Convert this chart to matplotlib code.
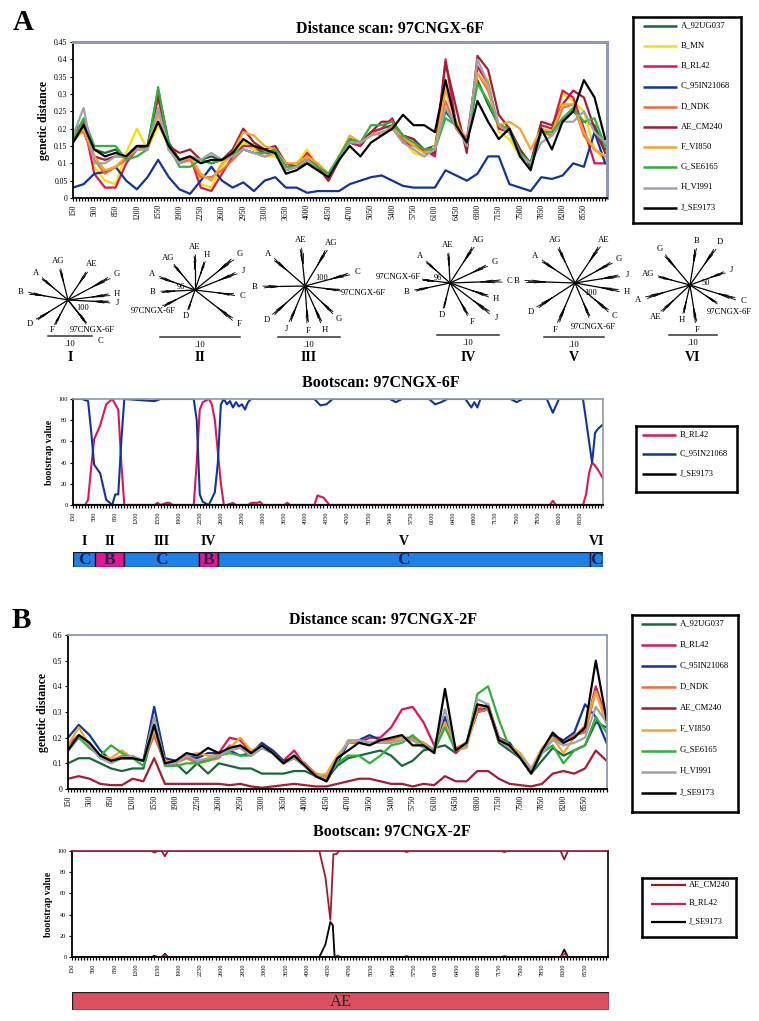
import numpy as np
import matplotlib
matplotlib.use("Agg")
import matplotlib.pyplot as plt
from matplotlib.ticker import MultipleLocator

plt.rcParams['font.family'] = ['Liberation Serif', 'DejaVu Serif']

# ====================== DATA ======================
# window midpoints (bp) of the distance scans
scan_pos = np.arange(150, 8901, 175)
scan_ticks = [150, 500, 850, 1200, 1550, 1900, 2250, 2600, 2950, 3300, 3650, 4000,
              4350, 4700, 5050, 5400, 5750, 6100, 6450, 6800, 7150, 7500, 7850, 8200, 8550]

# ---- Panel A : distance scan 97CNGX-6F ----
a_A_92UG037 = [0.17,0.22,0.14,0.13,0.14,0.11,0.15,0.15,0.31,0.16,
               0.11,0.12,0.11,0.12,0.11,0.13,0.16,0.14,0.13,0.13,
               0.08,0.09,0.10,0.08,0.06,0.11,0.16,0.15,0.19,0.20,
               0.21,0.18,0.17,0.14,0.15,0.25,0.21,0.16,0.34,0.27,
               0.21,0.20,0.14,0.09,0.19,0.19,0.22,0.25,0.22,0.21,0.14]
a_B_MN = [0.18,0.21,0.09,0.05,0.04,0.13,0.20,0.14,0.21,0.15,
          0.11,0.12,0.04,0.03,0.09,0.13,0.16,0.14,0.12,0.12,
          0.09,0.10,0.14,0.09,0.06,0.12,0.17,0.16,0.18,0.19,
          0.20,0.17,0.13,0.12,0.15,0.33,0.22,0.15,0.37,0.34,
          0.19,0.17,0.12,0.10,0.20,0.19,0.30,0.28,0.25,0.14,0.11]
a_B_RL42 = [0.19,0.22,0.07,0.03,0.03,0.10,0.14,0.15,0.29,0.14,
            0.10,0.12,0.03,0.02,0.07,0.12,0.15,0.15,0.13,0.13,
            0.10,0.09,0.13,0.09,0.05,0.11,0.16,0.15,0.19,0.20,
            0.23,0.16,0.15,0.14,0.12,0.40,0.21,0.17,0.38,0.33,
            0.20,0.19,0.13,0.10,0.21,0.20,0.31,0.29,0.20,0.10,0.10]
a_C_95IN21068 = [0.03,0.04,0.07,0.075,0.09,0.05,0.025,0.06,0.11,0.06,
                 0.025,0.012,0.05,0.09,0.05,0.03,0.045,0.02,0.05,0.06,
                 0.03,0.03,0.015,0.02,0.02,0.02,0.04,0.05,0.06,0.065,
                 0.05,0.035,0.03,0.03,0.03,0.08,0.065,0.05,0.07,0.12,
                 0.12,0.04,0.03,0.02,0.06,0.055,0.065,0.10,0.09,0.19,0.10]
a_D_NDK = [0.18,0.19,0.11,0.07,0.09,0.11,0.14,0.14,0.25,0.14,
           0.10,0.11,0.06,0.06,0.08,0.11,0.14,0.13,0.12,0.13,
           0.10,0.09,0.12,0.09,0.06,0.12,0.17,0.16,0.19,0.18,
           0.21,0.17,0.15,0.14,0.14,0.28,0.20,0.16,0.36,0.31,
           0.21,0.19,0.13,0.10,0.19,0.18,0.26,0.27,0.18,0.14,0.12]
a_AE_CM240 = [0.17,0.21,0.12,0.11,0.12,0.12,0.15,0.14,0.30,0.15,
              0.13,0.14,0.11,0.10,0.11,0.14,0.20,0.16,0.14,0.15,
              0.10,0.09,0.11,0.09,0.05,0.11,0.17,0.16,0.19,0.22,
              0.22,0.18,0.17,0.13,0.13,0.39,0.26,0.13,0.41,0.37,
              0.24,0.20,0.14,0.10,0.22,0.21,0.27,0.31,0.29,0.20,0.13]
a_F_VI850 = [0.16,0.20,0.12,0.08,0.09,0.12,0.14,0.14,0.24,0.15,
             0.11,0.12,0.07,0.05,0.10,0.13,0.19,0.18,0.15,0.14,
             0.10,0.10,0.12,0.10,0.07,0.12,0.18,0.16,0.18,0.19,
             0.20,0.18,0.15,0.13,0.14,0.31,0.22,0.16,0.36,0.32,
             0.21,0.22,0.20,0.14,0.20,0.19,0.27,0.27,0.19,0.14,0.12]
a_G_SE6165 = [0.17,0.23,0.15,0.15,0.15,0.11,0.12,0.14,0.32,0.15,
              0.09,0.09,0.11,0.10,0.11,0.13,0.14,0.13,0.13,0.14,
              0.09,0.09,0.11,0.09,0.07,0.12,0.17,0.16,0.21,0.21,
              0.22,0.18,0.16,0.14,0.14,0.23,0.21,0.16,0.33,0.28,
              0.21,0.20,0.13,0.10,0.19,0.19,0.23,0.26,0.22,0.23,0.15]
a_H_VI991 = [0.18,0.26,0.10,0.10,0.12,0.12,0.14,0.14,0.26,0.14,
             0.10,0.12,0.11,0.13,0.11,0.12,0.14,0.13,0.12,0.13,
             0.08,0.09,0.11,0.08,0.06,0.11,0.16,0.16,0.18,0.19,
             0.20,0.16,0.14,0.12,0.14,0.26,0.21,0.15,0.40,0.33,
             0.21,0.19,0.12,0.10,0.16,0.18,0.22,0.22,0.25,0.19,0.16]
a_J_SE9173 = [0.16,0.21,0.14,0.12,0.13,0.12,0.15,0.15,0.22,0.15,
              0.11,0.12,0.10,0.11,0.11,0.13,0.17,0.15,0.14,0.13,
              0.07,0.08,0.10,0.08,0.06,0.11,0.15,0.12,0.16,0.18,
              0.20,0.24,0.21,0.21,0.19,0.34,0.21,0.16,0.28,0.22,
              0.17,0.20,0.12,0.08,0.20,0.14,0.22,0.25,0.34,0.29,0.17]

# ---- Panel B : distance scan 97CNGX-2F ----
b_A_92UG037 = [0.10,0.12,0.12,0.10,0.08,0.07,0.08,0.08,0.24,0.10,
               0.10,0.06,0.10,0.06,0.10,0.09,0.08,0.08,0.06,0.06,
               0.06,0.07,0.07,0.05,0.04,0.09,0.12,0.13,0.14,0.15,
               0.13,0.09,0.11,0.15,0.16,0.17,0.14,0.18,0.30,0.32,
               0.18,0.15,0.12,0.06,0.11,0.16,0.13,0.15,0.17,0.26,0.24]
b_B_RL42 = [0.17,0.21,0.16,0.13,0.11,0.12,0.12,0.11,0.21,0.10,
            0.10,0.13,0.10,0.12,0.14,0.20,0.19,0.14,0.17,0.15,
            0.11,0.15,0.09,0.05,0.04,0.12,0.18,0.18,0.20,0.20,
            0.24,0.31,0.32,0.26,0.17,0.27,0.14,0.18,0.31,0.33,
            0.20,0.16,0.13,0.07,0.14,0.20,0.18,0.21,0.23,0.40,0.27]
b_C_95IN21068 = [0.20,0.25,0.21,0.15,0.11,0.12,0.12,0.11,0.32,0.12,
                 0.11,0.13,0.12,0.14,0.14,0.15,0.13,0.14,0.18,0.15,
                 0.11,0.12,0.10,0.05,0.03,0.10,0.18,0.19,0.21,0.19,
                 0.19,0.20,0.19,0.18,0.15,0.28,0.15,0.18,0.30,0.31,
                 0.20,0.18,0.12,0.07,0.15,0.21,0.19,0.22,0.33,0.28,0.18]
b_D_NDK = [0.16,0.20,0.17,0.12,0.11,0.13,0.12,0.11,0.21,0.11,
           0.10,0.12,0.10,0.11,0.12,0.17,0.16,0.13,0.16,0.14,
           0.10,0.13,0.10,0.06,0.05,0.12,0.18,0.18,0.18,0.19,
           0.19,0.20,0.20,0.18,0.15,0.25,0.16,0.18,0.30,0.31,
           0.20,0.17,0.13,0.07,0.15,0.20,0.18,0.21,0.22,0.38,0.27]
b_AE_CM240 = [0.04,0.05,0.04,0.02,0.015,0.015,0.04,0.03,0.12,0.02,
              0.02,0.02,0.02,0.02,0.02,0.015,0.02,0.01,0.005,0.01,
              0.015,0.02,0.015,0.01,0.01,0.02,0.03,0.04,0.04,0.03,
              0.02,0.02,0.01,0.02,0.015,0.05,0.03,0.03,0.07,0.07,
              0.04,0.02,0.015,0.01,0.02,0.06,0.07,0.06,0.08,0.15,0.11]
b_F_VI850 = [0.17,0.24,0.17,0.13,0.12,0.15,0.12,0.11,0.23,0.11,
             0.10,0.13,0.14,0.13,0.13,0.16,0.20,0.15,0.17,0.14,
             0.10,0.12,0.09,0.05,0.06,0.13,0.18,0.19,0.18,0.18,
             0.18,0.20,0.19,0.18,0.14,0.26,0.15,0.16,0.32,0.32,
             0.19,0.17,0.14,0.08,0.16,0.20,0.14,0.20,0.25,0.38,0.25]
b_G_SE6165 = [0.15,0.20,0.16,0.13,0.17,0.14,0.12,0.09,0.25,0.09,
              0.09,0.10,0.10,0.11,0.13,0.14,0.13,0.13,0.16,0.14,
              0.10,0.12,0.09,0.05,0.04,0.10,0.13,0.13,0.10,0.13,
              0.17,0.18,0.21,0.17,0.15,0.24,0.15,0.17,0.37,0.40,
              0.27,0.16,0.12,0.06,0.14,0.17,0.10,0.15,0.17,0.28,0.22]
b_H_VI991 = [0.15,0.21,0.17,0.12,0.10,0.12,0.13,0.11,0.28,0.10,
             0.10,0.13,0.11,0.12,0.13,0.15,0.16,0.13,0.16,0.14,
             0.10,0.12,0.09,0.05,0.04,0.11,0.19,0.19,0.18,0.18,
             0.18,0.19,0.19,0.16,0.16,0.31,0.15,0.17,0.35,0.33,
             0.19,0.16,0.13,0.08,0.14,0.19,0.17,0.18,0.20,0.32,0.26]
b_J_SE9173 = [0.15,0.21,0.18,0.13,0.11,0.12,0.12,0.11,0.25,0.10,
              0.11,0.14,0.13,0.16,0.14,0.16,0.17,0.14,0.17,0.14,
              0.10,0.13,0.09,0.05,0.03,0.12,0.15,0.18,0.17,0.19,
              0.20,0.21,0.17,0.17,0.14,0.39,0.15,0.18,0.33,0.32,
              0.19,0.17,0.12,0.06,0.15,0.22,0.18,0.20,0.24,0.50,0.27]

# ---- Bootscan A (97CNGX-6F) ----
bsa_C_x = [150,300,400,450,500,600,700,800,850,900,950,1000,1500,1600,1700,2150,2200,2250,2300,
           2400,2500,2550,2600,2650,2700,2750,2800,2850,2900,2950,3000,3050,3100,3300,4150,4250,
           4350,4450,5400,5500,5600,6050,6150,6250,6350,6650,6750,6800,6850,6900,7000,7400,7500,
           7600,8000,8100,8200,8600,8700,8750,8800,8850,8930]
bsa_C_y = [100,100,98,70,38,30,5,0,10,10,60,100,98,100,100,100,80,10,3,
           0,12,40,95,100,95,98,92,97,93,95,90,97,100,100,100,94,
           95,100,100,97,100,100,95,97,100,100,92,97,92,100,100,100,97,
           100,100,87,100,100,60,40,68,72,76]
bsa_B_x = [150,350,400,450,500,600,700,800,850,900,950,1000,1500,1550,1600,1700,1750,1800,2150,
           2200,2250,2300,2400,2450,2500,2550,2600,2650,2700,2800,2850,3050,3100,3200,3250,3300,
           3650,3700,3750,4150,4200,4300,4400,8050,8100,8150,8600,8650,8700,8750,8800,8850,8930]
bsa_B_y = [0,0,5,35,62,75,95,100,95,90,40,0,0,2,0,2,2,0,0,
           40,90,97,100,95,80,50,20,0,0,2,0,0,2,2,3,0,
           0,2,0,0,9,7,0,0,4,0,0,10,30,40,37,33,25]
bsa_J_x = [150, 8930]
bsa_J_y = [0, 0]

# ---- Bootscan B (97CNGX-2F) ----
bsb_AE_x = [150,1450,1500,1550,1620,1670,1720,4200,4300,4380,4430,4480,4520,5580,5630,5680,
            7180,7230,7280,8150,8210,8270,8926]
bsb_AE_y = [100,100,98.5,100,100,95,100,100,75,35,97,97,100,100,99,100,
            100,99,100,100,92,100,100]
bsb_B_x = [150,1620,1670,1720,4450,4500,4550,5580,5630,5680,7180,7230,7280,8150,8210,8270,8926]
bsb_B_y = [0,0,2,0,0,1.5,0,0,1,0,0,1,0,0,3,0,0]
bsb_J_x = [150,1450,1500,1550,1620,1670,1720,4200,4300,4380,4420,4450,8150,8210,8270,8926]
bsb_J_y = [0,0,1,0,0,3,0,0,12,33,30,0,0,7,0,0]

# ---- subtype bars ----
bar_a_start = [150, 515, 996, 2240, 2555, 8709]
bar_a_end = [515, 996, 2240, 2555, 8709, 8931]
bar_a_type = ['C', 'B', 'C', 'B', 'C', 'C']
bar_a_region = ['I', 'II', 'III', 'IV', 'V', 'VI']
bar_b_start = [150]
bar_b_end = [8926]
bar_b_type = ['AE']

# ---- trees (label, angle in deg, label distance px, branch length px) ----
tree_I_lab = ['AG','AE','A','G','B','H','J','D','F','97CNGX-6F','C']
tree_I_ang = [104, 56, 140, 28, 170, 7, -3, 212, 242, -51, -52]
tree_I_dist = [40, 43, 42, 55, 48, 49, 50, 45, 34, 38, 52]
tree_I_blen = [32, 34, 34, 47, 40, 42, 42, 37, 28, 26, 30]
tree_II_lab = ['AE','AG','H','G','J','A','B','C','97CNGX-6F','D','F']
tree_II_ang = [90, 130, 71, 39, 22, 160, 183, -7, 207, 251, -38]
tree_II_dist = [43, 42, 37, 57, 52, 46, 42, 48, 47, 28, 56]
tree_II_blen = [35, 33, 30, 49, 45, 38, 34, 40, 36, 21, 48]
tree_III_lab = ['AE','AG','A','C','97CNGX-6F','B','D','J','F','H','G']
tree_III_ang = [96, 59, 139, 15, -7, 181, 222, 247, 274, 294, 316]
tree_III_dist = [46, 50, 49, 54, 59, 50, 51, 47, 45, 48, 47]
tree_III_blen = [38, 42, 41, 46, 36, 42, 43, 39, 37, 40, 39]
tree_IV_lab = ['AE','AG','A','G','97CNGX-6F','C','B','H','D','F','J']
tree_IV_ang = [93, 57, 138, 25, 173, 2, 192, 341, 256, 299, 323]
tree_IV_dist = [38, 51, 40, 49, 52, 60, 44, 49, 33, 45, 58]
tree_IV_blen = [30, 43, 32, 41, 28, 52, 36, 41, 26, 37, 50]
tree_V_lab = ['AG','AE','A','G','J','B','H','D','C','F','97CNGX-6F']
tree_V_ang = [115, 56, 146, 29, 9, 178, 350, 213, 320, 247, 293]
tree_V_dist = [47, 52, 48, 50, 53, 58, 53, 53, 52, 51, 48]
tree_V_blen = [39, 44, 40, 42, 45, 50, 45, 45, 44, 43, 37]
tree_VI_lab = ['B','D','G','J','AG','A','C','97CNGX-6F','AE','H','F']
tree_VI_ang = [81, 55, 130, 20, 165, 196, 343, 326, 223, 257, 279]
tree_VI_dist = [45, 52, 47, 44, 43, 54, 56, 48, 47, 36, 46]
tree_VI_blen = [37, 44, 39, 37, 33, 46, 48, 33, 39, 29, 38]
tree_boot = ['100', '96', '100', '96', '100', '50']

# ====================== STYLE / LAYOUT ======================
W, H = 759, 1021
fig = plt.figure(figsize=(W / 100, H / 100), dpi=100)
fig.patch.set_facecolor('white')

col = {
    'A_92UG037': '#17693a', 'B_MN': '#f2e300', 'B_RL42': '#e0145c',
    'C_95IN21068': '#10369c', 'D_NDK': '#f26a3c', 'AE_CM240': '#a41f31',
    'F_VI850': '#f7a52a', 'G_SE6165': '#2fb33a', 'H_VI991': '#9ca3ad',
    'J_SE9173': '#000000',
}
sub_col = {'C': '#1f80e8', 'B': '#e3178e', 'AE': '#d9505e'}


def add_ax(l, t, r, b, **kw):
    return fig.add_axes([l / W, 1 - b / H, (r - l) / W, (b - t) / H], **kw)


def style_scan(ax, xmax, ymax, ystep, frame_col, frame_lw, ylabel, yfs, tfs, xfs):
    ax.set_xlim(150, xmax)
    ax.set_ylim(0, ymax)
    ax.set_xticks(scan_ticks)
    ax.set_xticklabels([str(t) for t in scan_ticks], rotation=90, fontsize=xfs)
    ax.xaxis.set_minor_locator(MultipleLocator(50))
    yt = np.round(np.arange(0, ymax + 1e-9, ystep), 3)
    ax.set_yticks(yt)
    ax.set_yticklabels([f'{v:g}' for v in yt], fontsize=tfs)
    ax.tick_params(axis='x', which='major', length=2.5, width=0.8, pad=2)
    ax.tick_params(axis='x', which='minor', length=2, width=0.9)
    ax.tick_params(axis='y', length=2, width=0.8, pad=2)
    for s in ['left', 'bottom']:
        ax.spines[s].set_color('black')
        ax.spines[s].set_linewidth(1.3)
    for s in ['top', 'right']:
        ax.spines[s].set_color(frame_col)
        ax.spines[s].set_linewidth(frame_lw)
    ax.set_ylabel(ylabel, fontsize=yfs, fontweight='bold', labelpad=3)


def legend_box(l, t, r, b, names, colors, y0, dy, lx0, lx1, tx, fs, lw):
    lax = add_ax(l, t, r, b)
    lax.set_xlim(l, r)
    lax.set_ylim(b, t)
    lax.set_xticks([])
    lax.set_yticks([])
    for s in lax.spines.values():
        s.set_linewidth(1.8)
        s.set_color('black')
    for k, n in enumerate(names):
        y = y0 + k * dy
        lax.plot([lx0, lx1], [y, y], color=colors[n], lw=lw, solid_capstyle='butt')
        lax.text(tx, y - 1, n, fontsize=fs, va='center', ha='left')


# ---------------- Panel A distance scan ----------------
fig.text(13 / W, 1 - 23 / H, 'A', fontsize=21, fontweight='bold', va='center', ha='left')
fig.text(390 / W, 1 - 29 / H, 'Distance scan: 97CNGX-6F', fontsize=11.5,
         fontweight='bold', ha='center', va='center')
axA = add_ax(73, 42, 607, 198)
a_names = ['A_92UG037', 'B_MN', 'B_RL42', 'C_95IN21068', 'D_NDK', 'AE_CM240',
           'F_VI850', 'G_SE6165', 'H_VI991', 'J_SE9173']
a_series = [a_A_92UG037, a_B_MN, a_B_RL42, a_C_95IN21068, a_D_NDK, a_AE_CM240,
            a_F_VI850, a_G_SE6165, a_H_VI991, a_J_SE9173]
for n, s in zip(a_names, a_series):
    axA.plot(scan_pos, s, color=col[n], lw=1.6)
style_scan(axA, 8930, 0.45, 0.05, '#8a9bb3', 2.2, 'genetic distance', 8.5, 5.5, 5.5)
legend_box(633, 17, 741, 223, a_names, col, 26, 20.2, 643, 677, 681, 6.2, 1.8)

# ---------------- trees ----------------
tax = fig.add_axes([0, 0, 1, 1], zorder=-1)
tax.set_xlim(0, W)
tax.set_ylim(H, 0)
tax.axis('off')
tree_sets = [
    (tree_I_lab, tree_I_ang, tree_I_dist, tree_I_blen),
    (tree_II_lab, tree_II_ang, tree_II_dist, tree_II_blen),
    (tree_III_lab, tree_III_ang, tree_III_dist, tree_III_blen),
    (tree_IV_lab, tree_IV_ang, tree_IV_dist, tree_IV_blen),
    (tree_V_lab, tree_V_ang, tree_V_dist, tree_V_blen),
    (tree_VI_lab, tree_VI_ang, tree_VI_dist, tree_VI_blen),
]
tree_names = ['I', 'II', 'III', 'IV', 'V', 'VI']
tree_center = [(68, 300), (195, 290), (305, 286), (450, 283), (575, 283), (690, 285)]
tree_bar = [(48, 92, 336), (160, 240, 337), (278, 340, 337), (437, 499, 335),
            (544, 604, 337), (669, 717, 335)]
tree_boot_pos = [(83, 308), (181, 287), (322, 278), (438, 278), (591, 293), (706, 283)]
twig_off = [-6, -2.5, 1, 4, 7]
twig_fac = [0.86, 1.0, 0.93, 0.97, 0.82]
for (labs, angs, dists, blens), nm, (cx, cy), (bx0, bx1, by), bpos, bt in zip(
        tree_sets, tree_names, tree_center, tree_bar, tree_boot_pos, tree_boot):
    for lab, ang, d, bl in zip(labs, angs, dists, blens):
        a = np.deg2rad(ang)
        f0 = 0.6
        mx, my = cx + f0 * bl * np.cos(a), cy - f0 * bl * np.sin(a)
        tax.plot([cx, mx], [cy, my], color='black', lw=0.9, solid_capstyle='butt')
        for off, fac in zip(twig_off, twig_fac):
            a2 = np.deg2rad(ang + off)
            ln = (fac - f0) * bl
            tax.plot([mx, mx + ln * np.cos(a2)], [my, my - ln * np.sin(a2)],
                     color='black', lw=0.6)
        tax.text(cx + d * np.cos(a), cy - d * np.sin(a), lab, fontsize=6.2,
                 ha='center', va='center')
    tax.text(bpos[0], bpos[1], bt, fontsize=6, ha='center', va='center')
    tax.plot([bx0, bx1], [by, by], color='#333333', lw=1.1)
    tax.text((bx0 + bx1) / 2, by + 8, '.10', fontsize=6.2, ha='center', va='center')
    tax.text((bx0 + bx1) / 2, 357, nm, fontsize=10, fontweight='bold',
             ha='center', va='center')

# ---------------- Bootscan A ----------------
fig.text(381 / W, 1 - 383 / H, 'Bootscan: 97CNGX-6F', fontsize=11.5,
         fontweight='bold', ha='center', va='center')
axBA = add_ax(73, 399, 603, 505)
axBA.plot(bsa_J_x, bsa_J_y, color=col['J_SE9173'], lw=1.6)
axBA.plot(bsa_B_x, bsa_B_y, color=col['B_RL42'], lw=1.5)
axBA.plot(bsa_C_x, bsa_C_y, color=col['C_95IN21068'], lw=1.5)
style_scan(axBA, 8931, 100, 20, '#8f9aaa', 1.2, 'bootstrap value', 7, 4.5, 4.5)
legend_box(636, 426, 737, 492, ['B_RL42', 'C_95IN21068', 'J_SE9173'], col,
           435, 19.5, 642, 676, 680, 6, 1.8)

# subtype bar A
barA = add_ax(73, 552, 603, 567)
barA.set_xlim(150, 8931)
barA.set_ylim(0, 1)
barA.axis('off')
for s0, s1, tp, rg in zip(bar_a_start, bar_a_end, bar_a_type, bar_a_region):
    barA.barh(0.5, s1 - s0, left=s0, height=1.0, color=sub_col[tp],
              edgecolor='#161630', lw=1.0)
    barA.text((s0 + s1) / 2, 0.45, tp, fontsize=12.5, fontweight='bold',
              color='#1a2456', ha='center', va='center')
    barA.text((s0 + s1) / 2, 1.68, rg, fontsize=10, fontweight='bold',
              color='black', ha='center', va='center')

# ---------------- Panel B distance scan ----------------
fig.text(12 / W, 1 - 620 / H, 'B', fontsize=21, fontweight='bold', va='center', ha='left')
fig.text(383 / W, 1 - 620 / H, 'Distance scan: 97CNGX-2F', fontsize=11.5,
         fontweight='bold', ha='center', va='center')
axB = add_ax(68, 635, 607, 789)
b_names = ['A_92UG037', 'B_RL42', 'C_95IN21068', 'D_NDK', 'AE_CM240',
           'F_VI850', 'G_SE6165', 'H_VI991', 'J_SE9173']
b_series = [b_A_92UG037, b_B_RL42, b_C_95IN21068, b_D_NDK, b_AE_CM240,
            b_F_VI850, b_G_SE6165, b_H_VI991, b_J_SE9173]
for n, s in zip(b_names, b_series):
    axB.plot(scan_pos, s, color=col[n], lw=1.6)
style_scan(axB, 8907, 0.6, 0.1, '#8a9bb3', 1.3, 'genetic distance', 8.5, 5.5, 5.5)
legend_box(632, 615, 738, 812, b_names, col, 624, 21.1, 641, 676, 680, 6.2, 1.8)

# ---------------- Bootscan B ----------------
fig.text(392 / W, 1 - 832 / H, 'Bootscan: 97CNGX-2F', fontsize=11.5,
         fontweight='bold', ha='center', va='center')
axBB = add_ax(72, 851, 608, 957)
bb_col = {'AE_CM240': '#9e1b2d', 'B_RL42': '#d81b60', 'J_SE9173': '#000000'}
axBB.plot(bsb_J_x, bsb_J_y, color=bb_col['J_SE9173'], lw=1.3)
axBB.plot(bsb_B_x, bsb_B_y, color=bb_col['B_RL42'], lw=1.2)
axBB.plot(bsb_AE_x, bsb_AE_y, color=bb_col['AE_CM240'], lw=1.3)
style_scan(axBB, 8926, 100, 20, 'black', 1.2, 'bootstrap value', 7, 4.5, 4.5)
axBB.spines['top'].set_color(bb_col['AE_CM240'])
legend_box(642, 878, 736, 937, ['AE_CM240', 'B_RL42', 'J_SE9173'], bb_col,
           885, 18.5, 651, 686, 689, 6, 1.6)

barB = add_ax(72, 992, 609, 1010)
barB.set_xlim(150, 8926)
barB.set_ylim(0, 1)
barB.axis('off')
for s0, s1, tp in zip(bar_b_start, bar_b_end, bar_b_type):
    barB.barh(0.5, s1 - s0, left=s0, height=1.0, color=sub_col[tp],
              edgecolor='#2a1a1a', lw=1.0)
    barB.text((s0 + s1) / 2, 0.45, tp, fontsize=12, color='#2a2a2a',
              ha='center', va='center')

fig.savefig('out.png', dpi=100)
